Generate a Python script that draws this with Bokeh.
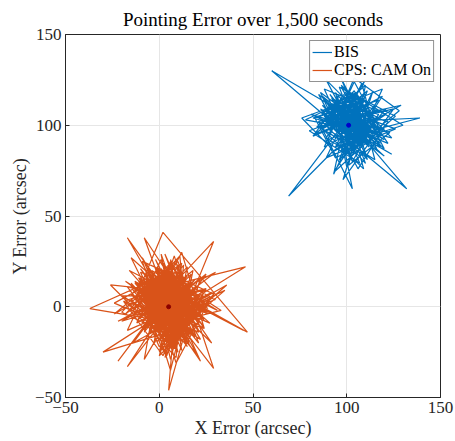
from bokeh.plotting import figure
from bokeh.models import Legend, LegendItem, FixedTicker, Range1d
from bokeh.embed import file_html
from bokeh.resources import INLINE

title_text = "Pointing Error over 1,500 seconds"
x_label = "X Error (arcsec)"
y_label = "Y Error (arcsec)"
tick_values = [-50, 0, 50, 100, 150]
series_names = ["BIS", "CPS: CAM On"]

bis_x = [101, 112, 90, 105, 118, 94, 83, 109, 99, 121, 88, 103, 115, 92, 107, 80, 111, 97, 124, 86,
         104, 95, 116, 89, 108, 60, 98, 113, 85, 106, 122, 91, 102, 119, 87, 110, 96, 126, 93, 107,
         115, 82, 100, 111, 94, 129, 88, 104, 117, 92, 69, 108, 98, 120, 86, 103, 113, 95, 132, 90,
         106, 97, 118, 84, 110, 101, 123, 89, 105, 114, 93, 99, 139, 102, 87, 116, 96, 109, 81, 112,
         91, 107, 120, 95, 103, 85, 117, 100, 97, 126, 89, 108, 114, 93, 76, 105, 119, 98, 110, 88,
         113, 94, 102, 121, 86, 109, 99, 116, 90, 104, 128, 96, 111, 83, 107, 118, 92, 101, 124, 97,
         108, 87, 119, 100, 93, 114, 78, 105, 122, 96, 110, 89, 103, 117, 92, 106, 98, 125, 84, 102,
         95, 111, 88, 104, 120, 99, 91, 115, 107, 82, 112, 97, 130, 94, 109, 101, 87, 118, 103, 101,
         99, 108, 93, 112, 104, 88, 115, 97, 106, 91, 110, 102, 95, 117, 100, 86, 109, 103, 94, 113,
         105, 96, 111, 90, 103, 118, 98, 107, 92, 114, 101, 89, 108, 97, 120, 94, 106, 99, 111, 101]
bis_y = [100, 88, 110, 118, 95, 82, 104, 113, 91, 106, 120, 86, 101, 115, 79, 97, 109, 122, 93, 103,
         84, 112, 97, 125, 88, 130, 107, 92, 117, 76, 102, 111, 89, 116, 98, 83, 121, 105, 74, 96,
         108, 94, 119, 81, 103, 111, 88, 124, 99, 85, 61, 114, 106, 92, 118, 80, 98, 110, 65, 101,
         113, 86, 104, 99, 122, 78, 96, 108, 90, 119, 73, 102, 104, 94, 111, 87, 128, 97, 106, 91,
         117, 93, 83, 107, 65, 102, 114, 91, 109, 98, 82, 123, 100, 86, 104, 115, 94, 112, 79, 105,
         96, 118, 87, 109, 99, 76, 114, 103, 92, 126, 108, 81, 119, 95, 105, 88, 112, 98, 84, 100,
         89, 107, 120, 77, 111, 96, 103, 116, 90, 101, 125, 93, 84, 106, 114, 97, 70, 109, 99, 104,
         110, 92, 100, 119, 87, 108, 97, 81, 113, 104, 95, 121, 100, 88, 106, 94, 116, 90, 102, 100,
         93, 105, 110, 96, 87, 103, 99, 114, 92, 107, 101, 89, 116, 104, 95, 109, 97, 118, 102, 91,
         108, 97, 90, 112, 99, 104, 86, 111, 101, 94, 119, 103, 92, 107, 98, 88, 113, 100, 95, 100]

cps_x = [5, 14, -6, 9, 21, 0, -11, 16, 7, -3, 24, 2, -15, 11, 18, -8, 10, -1, 27, -5,
         13, 6, -20, 12, 3, 30, -9, 17, 4, -2, 19, -13, 8, 25, -6, 7, 15, -12, 2, 22,
         -4, 10, 1, -17, 14, 28, -7, 5, 20, -10, 9, 3, -22, 16, 11, -1, 33, -5, 8, 18,
         -14, 6, 23, 0, -8, 13, 4, -18, 19, 10, -3, 26, 7, -11, 15, 2, -6, 21, 12, -16,
         9, -37, 4, 17, -2, 11, 29, -9, 6, 14, -13, 20, 1, -5, 12, 24, -19, 8, 3, 16,
         -7, 10, 35, 0, -12, 15, 6, -24, 13, 2, 19, -4, 9, 27, -10, 5, 14, -1, 22, -15,
         7, 18, -3, 11, 46, 4, -9, 16, 1, 25, -6, 12, 8, -20, 14, 3, 21, -11, 9, 0,
         15, -8, 6, 23, -14, 10, 2, 31, -4, 13, 7, -17, 19, 5, -2, 16, 11, -26, 8, 20,
         -5, 12, 3, -11, 17, 6, 26, -7, 9, 1, 14, -15, 21, 4, -3, 10, 45, -9, 7, 18,
         2, -19, 13, 8, -6, 24, 0, 15, -12, 6, 19, -2, 11, 28, -8, 4, 16, -14, 9, 22,
         -8, 7, 36, 3, -15, 12, 5, -30, 18, 10, -4, 23, 1, 14, -10, 8, 29, -1, 6, 17,
         -3, 11, 20, -9, 6, 15, -17, 2, 25, -6, 9, 13, -1, 19, -12, 7, 4, 30, -7, 16,
         5, -22, 12, 7, -5, 21, 3, 16, -11, 10, 6, -16, 27, 0, 14, -7, 9, 47, 2, -13,
         18, 1, -9, 13, 8, -4, 24, 6, -18, 11, 15, -2, 20, 4, -14, 9, 12, -6, 28, 3,
         -1, 16, 7, -24, 10, 29, -6, 14, 2, 19, -10, 8, 5, 22, -3, 12, -15, 7, 17, 0,
         11, -7, 21, 4, -12, 15, 9, -4, 26, 1, -17, 13, 6, 18, -9, 3, 24, -2, 10, -20,
         3, 12, -4, 8, 15, -1, 10, 6, -7, 14, 2, 9, -3, 17, 5, 0, 11, -6, 13, 7,
         -2, 10, 4, 16, -5, 8, 1, 13, -8, 6, 18, 0, 11, -3, 9, 15, -6, 4, 12, 2,
         7, -4, 14, 1, 10, -9, 5, 17, 3, -1, 12, 8, -5, 15, 0, 9, 13, -2, 6, 11,
         -6, 9, 3, 14, -2, 7, 12, -4, 16, 5, -8, 10, 1, 13, 4, -3, 11, 8, -5, 6,
         15, 2, 8, -7, 11, 5, 0, 13, -3, 9, 6, 17, -1, 4, 12, -5, 7, 14, 3, 10]
cps_y = [0, -12, 8, 15, -4, -18, 6, 11, -22, 3, 9, -7, 13, -16, 20, -2, -25, 17, -9, 5,
         -14, 24, -3, -19, 12, 4, -11, 18, -27, 7, -5, 14, -21, 10, 2, -15, 22, -8, 16, -30,
         9, -6, 26, -13, 1, -20, 15, -10, 6, 19, -24, 3, -8, 13, -17, 21, -2, -12, 28, -5,
         11, -16, 4, 17, -29, 8, -3, 14, -11, 23, -7, 2, -19, 16, -1, -23, 10, -13, 5, 20,
         -9, -1, 18, -6, 12, -15, 7, 25, -20, 1, 13, -26, 9, -4, 30, -12, 3, -17, 14, -7,
         16, -3, 9, -22, 6, -10, 19, 2, -14, 24, -6, 11, -31, 4, 15, -9, -2, 21, -18, 7,
         -20, 8, -12, 13, 22, -5, 27, -17, 10, -3, 18, -24, 1, -8, 12, -28, 6, 14, -11, 3,
         17, -14, 25, -6, 9, -19, 13, -2, 20, -10, 5, -33, 15, -1, 22, -16, 8, 12, -23, 4,
         -8, 18, -26, 6, -13, 23, -4, 11, -18, 29, -9, 2, -14, 19, -21, 7, -13, 16, -5, 10,
         -27, 3, 14, -11, 21, -7, 9, -22, 13, 1, -16, 26, -4, 8, -12, 17, -3, -20, 12, -9,
         38, -5, 12, -18, 4, 24, -14, -25, 7, -2, 16, -10, 21, -6, 10, -17, 36, 3, -29, 14,
         -12, 20, -4, 15, -35, 2, 11, -15, 18, -8, 26, -3, -19, 9, 13, -24, 5, 19, -10, 1,
         7, -30, 17, -7, 14, -20, 29, -1, 10, -13, 22, -5, 2, -27, 16, -11, 8, -14, 41, 4,
         -16, 12, -9, 23, -23, 6, -12, 15, -4, 28, -18, 10, -7, 20, -2, -28, 11, -15, 5, 19,
         9, -21, 14, -4, 25, -34, 13, -10, 4, -17, 21, -8, -46, 16, -6, 2, 27, -19, 12, -25,
         15, -3, -14, 22, -9, 7, -24, 18, -1, 12, 38, -16, 26, -7, 10, -21, 3, 17, -12, 6,
         6, -9, 11, -3, 8, -12, 13, -6, 2, 10, -14, 4, -8, 12, -2, 9, -11, 5, -5, 14,
         -10, 3, 15, -7, 9, -13, 7, 1, -4, 16, -9, 11, -15, 5, -1, 13, -6, 10, -12, 8,
         12, -5, -11, 9, 3, 6, -15, 4, 14, -8, 10, -3, 7, -13, 11, -7, 2, 15, -10, 1,
         -2, 13, -9, 6, 11, -14, 4, 9, -6, 15, 2, -11, 8, -4, 12, -13, 6, 1, -8, 10,
         5, -12, 14, 3, -7, 10, -15, 2, 12, -5, 8, -9, 13, -1, 6, -10, 15, -4, 9, -3]

bis_mean = [101, 100]
cps_mean = [5, 0]

serif = "Liberation Serif"
axis_color = "#262626"

p = figure(width=455, height=441, output_backend="svg", toolbar_location=None,
           x_range=Range1d(-50, 150), y_range=Range1d(-50, 150),
           min_border_left=65, min_border_right=15, min_border_top=34, min_border_bottom=44,
           title=title_text)
p.title.text_font = serif
p.title.text_font_size = "19px"
p.title.text_font_style = "normal"
p.title.align = "center"
p.title.text_color = "#000000"

l1 = p.line(bis_x, bis_y, line_color="#0072BD", line_width=1.2)
l2 = p.line(cps_x, cps_y, line_color="#D95319", line_width=1.2)
p.scatter([bis_mean[0]], [bis_mean[1]], size=4, color="#0000CC")
p.scatter([cps_mean[0]], [cps_mean[1]], size=4, color="#8B0000")

for ax in (p.xaxis[0], p.yaxis[0]):
    ax.ticker = FixedTicker(ticks=tick_values)
    ax.major_label_text_font = serif
    ax.major_label_text_font_size = "17px"
    ax.major_label_text_color = axis_color
    ax.axis_label_text_font = serif
    ax.axis_label_text_font_size = "18px"
    ax.axis_label_text_font_style = "normal"
    ax.axis_label_text_color = axis_color
    ax.axis_line_color = axis_color
    ax.major_tick_line_color = axis_color
    ax.major_tick_in = 4
    ax.major_tick_out = 0
    ax.minor_tick_line_color = None
    ax.axis_label_standoff = 2
    ax.major_label_standoff = 4
p.xaxis.axis_label = x_label
p.yaxis.axis_label = y_label
p.yaxis.major_label_orientation = "horizontal"

p.xgrid.grid_line_color = "#E6E6E6"
p.ygrid.grid_line_color = "#E6E6E6"
p.outline_line_color = axis_color
p.outline_line_alpha = 1

legend = Legend(items=[LegendItem(label=series_names[0], renderers=[l1]),
                       LegendItem(label=series_names[1], renderers=[l2])],
                location="top_right")
legend.label_text_font = serif
legend.label_text_font_size = "16px"
legend.label_text_color = "#000000"
legend.border_line_color = axis_color
legend.border_line_width = 1
legend.glyph_width = 20
legend.glyph_height = 14
legend.label_standoff = 2
legend.spacing = 0
legend.padding = 2
legend.margin = 6
legend.label_height = 14
p.add_layout(legend)

open("out.html", "w").write(file_html(p, INLINE))
